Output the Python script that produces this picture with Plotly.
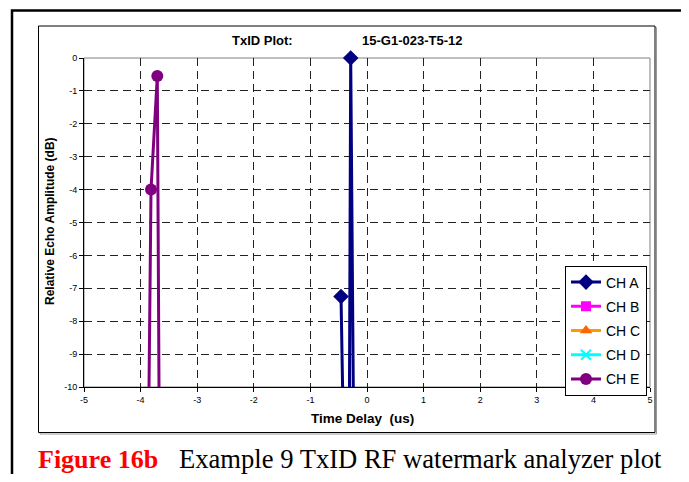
import plotly.graph_objects as go

# ---- data ----
ch_a_x = [-0.459, -0.331, -0.288, -0.197]
ch_a_y = [-7.25, -20.0, 0.0, -20.0]
ch_b_x, ch_b_y = [None], [None]
ch_c_x, ch_c_y = [None], [None]
ch_d_x, ch_d_y = [None], [None]
ch_e_x = [-3.91, -3.816, -3.705, -3.643]
ch_e_y = [-20.0, -4.0, -0.55, -20.0]

x_ticks = [-5, -4, -3, -2, -1, 0, 1, 2, 3, 4, 5]
y_ticks = [0, -1, -2, -3, -4, -5, -6, -7, -8, -9, -10]

# page has an 8px body margin; figure is placed at (8, 8) in the window
OFF = 8
W, H = 681, 466
# plot area in window pixels
PL, PR, PT, PB = 84, 650, 58, 387
L, R, T, B = PL - OFF, W - (PR - OFF), PT - OFF, H - (PB - OFF)
PW, PH = PR - PL, PB - PT


def px(x):
    return (x - PL) / PW


def py(y):
    return (PB - y) / PH


FONT = "Arial, 'Liberation Sans', sans-serif"
SERIF = "'Times New Roman', 'Liberation Serif', serif"

fig = go.Figure()

series = [
    ("CH A", ch_a_x, ch_a_y, "#000080", "#000080", "diamond", 12),
    ("CH B", ch_b_x, ch_b_y, "#FF00FF", "#FF00FF", "square", 10),
    ("CH C", ch_c_x, ch_c_y, "#FF9900", "#FF6600", "triangle-up", 11),
    ("CH D", ch_d_x, ch_d_y, "#00FFFF", "#00FFFF", "x-thin-open", 10),
    ("CH E", ch_e_x, ch_e_y, "#800080", "#800080", "circle", 12),
]
for name, xs, ys, lc, mc, sym, ms in series:
    fig.add_trace(go.Scatter(
        x=xs, y=ys, name=name, mode="lines+markers", legendgroup=name,
        line=dict(color=lc, width=3),
        marker=dict(color=mc, symbol=sym, size=ms,
                    line=dict(color=mc, width=2 if "x" in sym else 0)),
        cliponaxis=False,
    ))

shapes = [
    # outer frame
    dict(type="rect", xref="paper", yref="paper", x0=px(12), x1=px(682.5), y0=py(500), y1=py(10.5),
         line=dict(color="black", width=2.5), fillcolor="rgba(0,0,0,0)", layer="below"),
    # inner chart frame shadow
    dict(type="rect", xref="paper", yref="paper", x0=px(40), x1=px(656.5), y0=py(434), y1=py(27.5),
         line=dict(color="#9a9a9a", width=1), fillcolor="rgba(0,0,0,0)", layer="below"),
    # inner chart frame
    dict(type="rect", xref="paper", yref="paper", x0=px(38.5), x1=px(655), y0=py(432.5), y1=py(26),
         line=dict(color="black", width=1), fillcolor="white", layer="below"),
    # plot area border (gray top/right)
    dict(type="rect", xref="paper", yref="paper", x0=0, x1=1, y0=0, y1=1,
         line=dict(color="#808080", width=1), fillcolor="rgba(0,0,0,0)", layer="below"),
]

annotations = [
    dict(text="<b>TxID Plot:</b>", x=px(262), y=py(41), xref="paper", yref="paper",
         showarrow=False, font=dict(family=FONT, size=13, color="black"), xanchor="center", yanchor="middle"),
    dict(text="<b>15-G1-023-T5-12</b>", x=px(412), y=py(41), xref="paper", yref="paper",
         showarrow=False, font=dict(family=FONT, size=13, color="black"), xanchor="center", yanchor="middle"),
    dict(text="<b>Relative Echo Amplitude (dB)</b>", x=px(50), y=py(221), xref="paper", yref="paper",
         showarrow=False, textangle=-90, font=dict(family=FONT, size=12, color="black"),
         xanchor="center", yanchor="middle"),
    dict(text="<b>Time Delay  (us)</b>", x=px(362.5), y=py(418), xref="paper", yref="paper",
         showarrow=False, font=dict(family=FONT, size=13.5, color="black"), xanchor="center", yanchor="middle"),
    dict(text="<b>Figure 16b</b>", x=px(36), y=py(459), xref="paper", yref="paper",
         showarrow=False, font=dict(family=SERIF, size=26, color="#FF0000"),
         xanchor="left", yanchor="middle"),
    dict(text="Example 9 TxID RF watermark analyzer plot", x=px(177), y=py(459), xref="paper", yref="paper",
         showarrow=False, font=dict(family=SERIF, size=26.6, color="black"),
         xanchor="left", yanchor="middle"),
]

fig.update_layout(
    width=W, height=H,
    margin=dict(l=L, r=R, t=T, b=B, pad=0),
    paper_bgcolor="white", plot_bgcolor="white",
    showlegend=True,
    legend=dict(x=px(565), y=py(265.5), xanchor="left", yanchor="top",
                bgcolor="white", bordercolor="black", borderwidth=1,
                font=dict(family=FONT, size=14, color="black"),
                itemwidth=30, tracegroupgap=3),
    shapes=shapes,
    annotations=annotations,
    xaxis=dict(range=[-5, 5], tickvals=x_ticks, ticktext=[str(v) for v in x_ticks],
               showgrid=True, gridcolor="#222", gridwidth=1, griddash="8px,5px",
               showline=True, linecolor="black", linewidth=1,
               ticks="outside", ticklen=4, tickcolor="black",
               tickfont=dict(family=FONT, size=9, color="black"),
               zeroline=False, fixedrange=True),
    yaxis=dict(range=[-10, 0], tickvals=y_ticks, ticktext=[str(v) for v in y_ticks],
               showgrid=True, gridcolor="#222", gridwidth=1, griddash="8px,5px",
               showline=True, linecolor="black", linewidth=1,
               ticks="outside", ticklen=4, tickcolor="black",
               tickfont=dict(family=FONT, size=9, color="black"),
               zeroline=False, fixedrange=True),
)

fig.write_html("out.html")
